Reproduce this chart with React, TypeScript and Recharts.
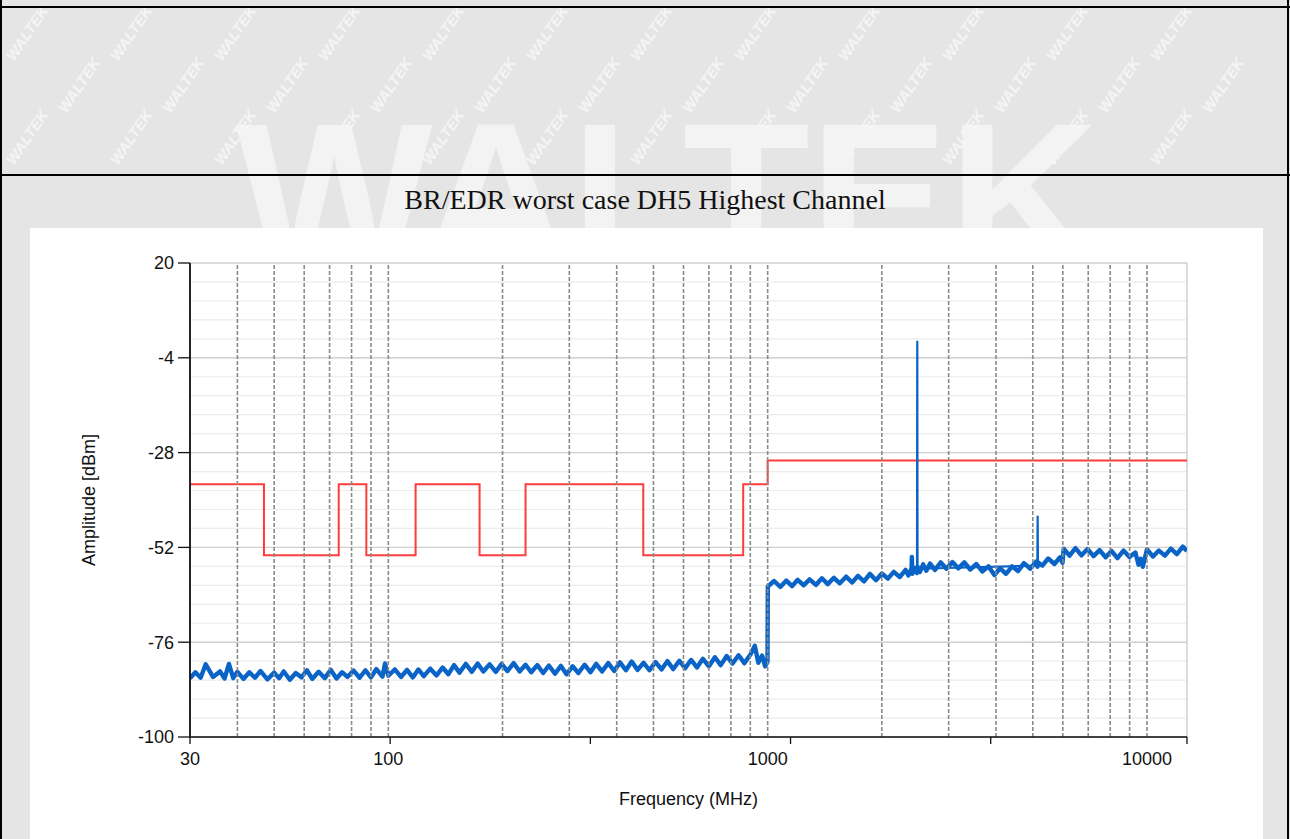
import React from 'react';
import { LineChart, Line, XAxis, YAxis, CartesianGrid, ReferenceLine, Label } from 'recharts';

// y axis (dBm)
const Y_TICKS = [20, -4, -28, -52, -76, -100];
const Y_MINOR = [
  20, 15.2, 10.4, 5.6, 0.8, -4, -8.8, -13.6, -18.4, -23.2, -28, -32.8, -37.6,
  -42.4, -47.2, -52, -56.8, -61.6, -66.4, -71.2, -76, -80.8, -85.6, -90.4, -95.2, -100,
];

// x axis (MHz, log)
const X_DOMAIN = [30, 12750];
const X_LABELS = [30, 100, 1000, 10000];
const X_MAJOR = [30, 101.1, 340.9, 1149, 3873, 12750];
const X_MINOR = [
  30, 38.25, 48.78, 62.2, 79.3, 101.1, 128.9, 164.4, 209.6, 267.3, 340.9, 434.6, 554.2,
  706.6, 901, 1149, 1465, 1868, 2382, 3037, 3873, 4938, 6297, 8029, 10238, 12750,
];
const MARKERS = [
  40, 50, 60, 70, 80, 90, 100, 200, 300, 400, 500, 600, 700, 800, 900,
  1000, 2000, 3000, 4000, 5000, 6000, 7000, 8000, 9000, 10000,
];

// limit line
const LIMIT_FREQ = [30, 47, 74, 87.5, 118, 174, 230, 470, 862, 1000, 12750];
const LIMIT_DBM = [-36, -54, -36, -54, -36, -54, -36, -54, -36, -30, -30];

// measured trace [MHz, dBm]
const TRACE_LOW = [
  [30, -85.1], [31, -83.6], [32, -85.0], [33, -81.6], [34.5, -84.8], [36, -83.4], [37, -85.2],
  [38, -81.5], [39, -85.1], [40, -83.5], [41.5, -85.3], [43, -83.6], [44.5, -85.0], [46, -83.3],
  [48, -85.4], [50, -83.7], [51.5, -85.1], [53, -83.4], [55, -85.5], [57, -83.8], [59, -84.9],
  [61, -83.1], [63, -85.3], [65.5, -83.5], [68, -85.1], [70.5, -83.0], [73, -85.2], [75.5, -83.6],
  [78, -84.8], [81, -83.2], [84, -85.0], [87, -83.1], [90, -84.9], [93, -82.8], [96.5, -84.7],
  [98, -81.4], [100, -84.5], [104, -82.9], [108, -84.8], [112, -83.0], [116, -84.9], [120, -82.9],
  [124, -84.6], [129, -82.7], [134, -84.4], [139, -82.4], [144, -84.1], [149, -81.8], [154, -83.7],
  [160, -81.5], [166, -83.5], [172, -81.4], [178, -83.4], [185, -81.6], [192, -83.5], [199, -81.5],
  [206, -83.3], [214, -81.3], [222, -83.4], [230, -81.7], [238, -83.6], [247, -81.8], [256, -83.8],
  [265, -81.9], [275, -84.0], [285, -82.0], [295, -84.1], [306, -82.1], [317, -83.8], [329, -81.7],
  [341, -83.6], [353, -81.5], [366, -83.4], [380, -81.3], [394, -83.3], [408, -81.1], [423, -83.1],
  [438, -80.9], [454, -83.0], [471, -81.2], [488, -83.1], [506, -81.0], [525, -82.9], [544, -80.8],
  [564, -82.8], [585, -80.7], [606, -82.6], [628, -80.5], [651, -82.4], [675, -80.2], [700, -82.1],
  [726, -79.8], [752, -81.8], [780, -79.5], [808, -81.4], [838, -79.3], [868, -81.3], [900, -79.2],
  [925, -76.9], [945, -81.2], [967, -79.4], [985, -82.1], [999, -81.0],
];
const TRACE_HIGH = [
  [1001, -61.9], [1040, -60.5], [1080, -62.0], [1120, -60.4], [1160, -61.8], [1200, -60.2],
  [1245, -61.6], [1290, -60.1], [1340, -61.5], [1390, -59.8], [1440, -61.3], [1495, -59.7],
  [1550, -61.1], [1610, -59.4], [1670, -60.9], [1730, -59.2], [1795, -60.6], [1860, -58.7],
  [1930, -60.3], [2000, -58.6], [2075, -59.9], [2150, -58.2], [2230, -59.5], [2310, -57.7],
  [2350, -59.1], [2395, -57.4], [2400, -54.4], [2405, -58.7], [2440, -57.2], [2476, -58.5],
  [2484, -56.9], [2520, -58.2], [2570, -56.3], [2620, -57.9], [2680, -56.1],
  [2760, -57.7], [2860, -55.8], [2960, -57.4], [3070, -55.7], [3180, -57.3], [3300, -55.8],
  [3420, -57.6], [3550, -56.2], [3680, -58.1], [3820, -56.8], [3960, -59.0], [4100, -57.3],
  [4250, -58.7], [4410, -56.8], [4570, -58.0], [4740, -56.0], [4920, -57.4], [5100, -55.6],
  [5145, -56.9], [5155, -55.8], [5300, -56.6], [5490, -54.8], [5700, -56.2],
  [5900, -54.5], [5990, -55.9], [6030, -52.3], [6250, -54.1], [6480, -52.2], [6720, -54.0],
  [6970, -52.4], [7230, -54.2], [7500, -52.7], [7780, -54.5], [8060, -52.9], [8360, -54.7],
  [8670, -52.8], [8990, -54.4], [9320, -53.3], [9500, -56.4], [9630, -54.9], [9750, -56.9],
  [10000, -52.5], [10370, -54.3], [10750, -52.8], [11150, -54.1], [11560, -52.3], [11990, -53.7],
  [12430, -51.8], [12750, -52.9],
];
// narrow emissions (carrier and 5 GHz spur)
const SPIKES = [
  [2476, -57.8], [2480, 0.3], [2484, -57.4], [5140, -56.6], [5150, -44.0], [5160, -56.2],
];

const traceData = [...TRACE_LOW, ...TRACE_HIGH].map(([f, v]) => ({ f, v }));
const spikeData = SPIKES.map(([f, v]) => ({ f, v }));
const limitData = LIMIT_FREQ.map((f, i) => ({ f, v: LIMIT_DBM[i] }));

const FONT = '"Liberation Sans", Arial, sans-serif';

function FreqTick(props: any) {
  const { x, y, payload } = props;
  const v = payload.value;
  return (
    <g>
      {X_MAJOR.includes(v) && <line x1={x} y1={y} x2={x} y2={y + 7} stroke="#111" strokeWidth={1.3} />}
      {X_LABELS.includes(v) && (
        <text x={x} y={y + 28} textAnchor="middle" fontSize={18} fontFamily={FONT} fill="#111">
          {v}
        </text>
      )}
    </g>
  );
}

function Watermark() {
  const marks: React.ReactNode[] = [];
  for (let r = 0; r < 17; r++) {
    for (let c = 0; c < 13; c++) {
      const x = c * 104 + (r % 2) * 52 + 14;
      const y = r * 52 + 62;
      // keep marks away from the white chart panel
      if (x > 10 && x < 1250 && y > 215) continue;
      if (x + 38 > 1286 || y - 56 < 0 || y > 839) continue;
      marks.push(
        <text
          key={`${r}-${c}`}
          x={x}
          y={y}
          transform={`rotate(-56 ${x} ${y})`}
          fontSize={15}
          fontWeight="bold"
          fontStyle="italic"
          fontFamily={FONT}
          fill="#f5f5f5"
        >
          WALTEK
        </text>
      );
    }
  }
  return (
    <svg width={1290} height={839} style={{ position: 'absolute', left: 0, top: 0 }}>
      <rect width={1290} height={839} fill="#e5e5e5" />
      <text x={236} y={268} fontSize={208} fontWeight="bold" fontFamily={FONT} fill="#f3f3f3">
        WALTEK
      </text>
      {marks}
      <line x1={0} y1={7} x2={1290} y2={7} stroke="#000" strokeWidth={2} />
      <line x1={0} y1={175} x2={1290} y2={175} stroke="#000" strokeWidth={2} />
      <line x1={1} y1={0} x2={1} y2={839} stroke="#000" strokeWidth={2} />
      <line x1={1288} y1={0} x2={1288} y2={839} stroke="#000" strokeWidth={2} />
    </svg>
  );
}

export default function App() {
  return (
    <div style={{ position: 'absolute', left: 0, top: 0, width: 1290, height: 839, overflow: 'hidden' }}>
      <Watermark />
      <div
        style={{
          position: 'absolute',
          left: 0,
          top: 184,
          width: 1290,
          textAlign: 'center',
          fontFamily: '"Liberation Serif", "Times New Roman", serif',
          fontSize: 28,
          lineHeight: '32px',
          color: '#111',
        }}
      >
        BR/EDR worst case DH5 Highest Channel
      </div>
      <div style={{ position: 'absolute', left: 30, top: 228, width: 1233, height: 611, background: '#fff' }}>
        <LineChart width={1233} height={611} margin={{ top: 35, right: 76, bottom: 32, left: 0 }}>
          <XAxis xAxisId="minor" type="number" scale="log" domain={X_DOMAIN} allowDataOverflow ticks={X_MINOR} interval={0} hide />
          <XAxis xAxisId="major" type="number" scale="log" domain={X_DOMAIN} allowDataOverflow ticks={X_MAJOR} interval={0} hide />
          <YAxis yAxisId="minor" type="number" domain={[-100, 20]} allowDataOverflow ticks={Y_MINOR} interval={0} hide />
          <CartesianGrid xAxisId="minor" yAxisId="minor" stroke="#ececec" strokeWidth={1.2} />
          <CartesianGrid xAxisId="major" yAxisId={0} stroke="#d2d2d2" strokeWidth={1.4} />
          <XAxis
            dataKey="f"
            type="number"
            scale="log"
            domain={X_DOMAIN}
            allowDataOverflow
            ticks={[...X_MAJOR, 100, 1000, 10000]}
            interval={0}
            tickLine={false}
            tickSize={0}
            tickMargin={0}
            tick={<FreqTick />}
            axisLine={{ stroke: '#111', strokeWidth: 1.5 }}
            height={70}
          >
            <Label value="Frequency (MHz)" position="insideBottom" offset={2} fontSize={18} fontFamily={FONT} fill="#111" />
          </XAxis>
          <YAxis
            type="number"
            domain={[-100, 20]}
            allowDataOverflow
            ticks={Y_TICKS}
            interval={0}
            width={160}
            tickSize={12}
            tickMargin={4}
            tick={{ fontSize: 18, fontFamily: FONT, fill: '#111' }}
            tickLine={{ stroke: '#111', strokeWidth: 1.3 }}
            axisLine={{ stroke: '#111', strokeWidth: 1.8 }}
          >
            <Label value="Amplitude [dBm]" angle={-90} position="center" dx={-21} fontSize={18} fontFamily={FONT} fill="#111" />
          </YAxis>
          <Line
            data={limitData}
            dataKey="v"
            type="stepAfter"
            stroke="#ff3c3c"
            strokeWidth={2}
            dot={false}
            isAnimationActive={false}
          />
          <Line
            data={traceData}
            dataKey="v"
            type="linear"
            stroke="#0a64c8"
            strokeWidth={4.4}
            strokeLinejoin="round"
            dot={false}
            isAnimationActive={false}
          />
          <Line
            data={spikeData}
            dataKey="v"
            type="linear"
            stroke="#0a64c8"
            strokeWidth={2.2}
            dot={false}
            isAnimationActive={false}
          />
          {MARKERS.map((m) => (
            <ReferenceLine key={m} x={m} stroke="#8a8a8a" strokeWidth={1.6} strokeDasharray="4 2" />
          ))}
        </LineChart>
      </div>
    </div>
  );
}
